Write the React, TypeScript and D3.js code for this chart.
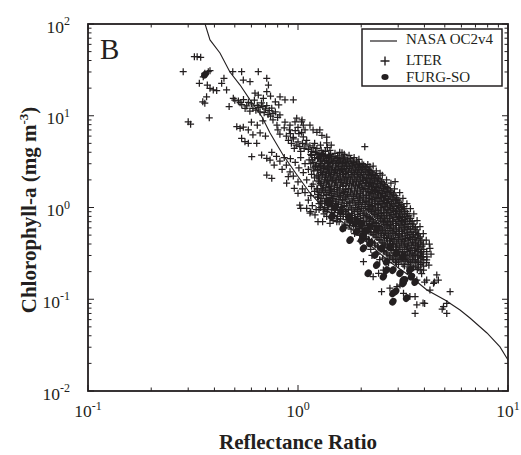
import React from 'react';
import * as d3 from 'd3';

const W = 521;
const H = 455;
const PLOT = { left: 88, right: 508, top: 24, bottom: 391 };

const xDomain: [number, number] = [0.1, 10];
const yDomain: [number, number] = [0.01, 100];
const xTickExps = [-1, 0, 1];
const yTickExps = [-2, -1, 0, 1, 2];
const xTitle = 'Reflectance Ratio';
const yTitleMain = 'Chlorophyll-a (mg m';
const yTitleSup = '-3';
const panelLabel = 'B';
const legendLabels = ['NASA OC2v4', 'LTER', 'FURG-SO'];

// NASA OC2v4 curve (ratio, chl)
const nasaCurve: [number, number][] = [
  [0.361, 100], [0.381, 67], [0.425, 48.3], [0.474, 30], [0.53, 21.6], [0.591, 14.9],
  [0.674, 9.7], [0.736, 6.5], [0.849, 3.73], [0.989, 2.26], [1.14, 1.44], [1.315, 1.01],
  [1.77, 0.599], [2.2, 0.39], [2.74, 0.255], [3.41, 0.179], [4.11, 0.126], [5.01, 0.098],
  [5.91, 0.0764], [6.59, 0.0625], [7.94, 0.0429], [9.16, 0.0302], [10, 0.0218],
];

// LTER observations (ratio, chl) — sparse outer points
const lterOuter: [number, number][] = [
  [0.284, 30.2], [0.321, 44], [0.331, 44], [0.344, 43.4], [0.300, 8.6], [0.308, 8.1], [0.378, 9.5],
  [0.339, 22.6], [0.354, 26.6], [0.360, 29], [0.374, 30.2], [0.381, 31], [0.352, 14.2], [0.360, 13.7],
  [0.367, 16.1], [0.370, 21.6], [0.381, 19.9], [0.395, 19.1], [0.410, 18.8], [0.433, 22.6], [0.444, 25.6],
  [0.457, 19.1], [0.489, 30.2], [0.492, 15.5], [0.539, 30.2], [0.549, 24.5], [0.591, 23.5], [0.647, 30.2],
  [0.710, 25.6], [0.723, 21.6], [0.710, 18.3], [0.624, 17.6], [0.647, 16.8], [0.684, 15.5], [0.821, 16.1],
  [0.867, 14.9], [0.950, 14.9], [0.74, 16.4], [0.78, 14.2], [0.81, 13.1],
  [0.511, 7.6], [0.530, 7.3], [0.549, 7.5], [0.580, 7.0], [0.539, 5.68], [0.559, 5.21], [0.580, 5.01],
  [0.636, 5.01], [0.602, 3.58], [0.671, 3.73], [0.710, 3.44], [0.736, 3.29], [0.710, 2.26], [0.750, 2.08],
  [0.60, 8.5], [0.64, 7.9], [0.68, 8.8], [0.66, 6.5], [0.70, 6.0], [0.61, 6.2],
  [2.08, 4.6], [2.20, 2.78], [2.28, 2.83], [2.46, 2.36], [2.90, 1.91], [2.96, 1.21], [3.18, 1.02],
  [4.25, 0.359], [4.58, 0.184], [4.66, 0.162], [4.42, 0.149], [5.30, 0.121], [5.11, 0.090], [4.93, 0.083],
  [5.11, 0.070], [3.61, 0.107], [3.68, 0.087], [3.61, 0.070], [4.01, 0.090], [2.50, 0.121], [2.74, 0.132],
  [2.96, 0.137], [3.06, 0.143], [2.28, 0.176], [2.42, 0.192], [2.55, 0.208], [2.05, 0.257], [3.94, 0.291],
  [4.10, 0.268], [4.01, 0.154], [4.46, 0.154], [4.25, 0.126], [3.94, 0.091], [4.86, 0.078], [3.41, 0.19],
  [3.68, 0.162], [3.96, 0.208], [4.10, 0.162], [3.18, 0.116], [3.41, 0.107],
];

// LTER — fringe points around the dense core
const lterFringe: [number, number][] = [
  [1.62, 3.95], [1.95, 3.35], [2.15, 2.95], [2.36, 2.5], [2.52, 2.25], [2.64, 2.0], [2.77, 1.84],
  [2.88, 1.6], [3.05, 1.45], [3.16, 1.26], [3.3, 1.1], [3.43, 0.97], [3.56, 0.85], [3.69, 0.72],
  [3.81, 0.62], [3.95, 0.52], [4.08, 0.44], [4.22, 0.4], [4.3, 0.31], [4.2, 0.235], [3.88, 0.19],
  [2.45, 0.27], [2.25, 0.3], [1.98, 0.43], [1.86, 0.52], [1.68, 0.6], [1.47, 0.72],
];

// LTER — upper and middle clusters
const lterUpper: [number, number][] = [
  [0.52, 14.5], [0.54, 13.2], [0.55, 15.0], [0.57, 12.8], [0.58, 14.0], [0.60, 13.5], [0.61, 12.0],
  [0.62, 14.8], [0.63, 11.5], [0.64, 13.0], [0.65, 12.3], [0.66, 11.0], [0.67, 13.8], [0.68, 12.6],
  [0.69, 10.8], [0.70, 11.9], [0.71, 12.9], [0.72, 10.3], [0.73, 11.4], [0.74, 9.9], [0.75, 12.1],
  [0.76, 10.6], [0.78, 11.0], [0.80, 9.6], [0.82, 10.2], [0.59, 11.2], [0.56, 12.0], [0.53, 13.9],
  [0.50, 14.8], [0.47, 12.6],
  [0.760, 9.0], [0.794, 7.9], [0.802, 7.0], [0.867, 8.5], [0.916, 7.9], [0.968, 8.55], [1.0, 7.45],
  [1.045, 9.0], [1.06, 7.9], [1.08, 7.0], [1.14, 7.9], [1.18, 7.0], [1.23, 6.6], [1.27, 7.0],
  [1.30, 6.1], [1.37, 5.85], [1.37, 5.05], [0.986, 9.4], [1.04, 8.6], [0.86, 7.4], [0.91, 7.0],
  [0.97, 6.9], [1.01, 6.4], [1.04, 6.6], [0.82, 6.3], [0.88, 6.0], [0.95, 5.8], [1.06, 5.9], [0.92, 6.4],
  [0.90, 5.4], [0.93, 5.0], [0.95, 5.6], [0.98, 4.8], [1.00, 5.2], [1.02, 4.6], [1.05, 5.0], [1.07, 4.4],
  [1.09, 4.9], [1.12, 4.3], [1.14, 4.7], [1.16, 4.1], [1.18, 4.5], [1.21, 4.0], [1.23, 4.4], [1.26, 3.9],
  [1.29, 4.2], [1.32, 3.8], [1.35, 4.1], [1.10, 5.4], [1.20, 5.0], [1.28, 4.8], [1.03, 4.1], [0.96, 4.4],
  [1.15, 3.8], [1.38, 4.5], [1.44, 4.8], [1.40, 3.7],
  [1.42, 4.2], [1.50, 3.9], [1.58, 4.0], [1.66, 3.8], [1.75, 3.7], [1.85, 3.5],
  [0.75, 4.0], [0.79, 3.6], [0.82, 3.2], [0.86, 3.5], [0.77, 2.9], [0.84, 2.6], [0.88, 2.9], [0.92, 3.4],
  [0.97, 3.1], [1.03, 3.5], [1.08, 3.0], [1.13, 3.3], [1.01, 2.7], [1.06, 2.4], [1.12, 2.6], [0.95, 2.2],
  [1.00, 1.9], [1.10, 2.0], [1.16, 1.7], [1.05, 1.6], [1.20, 1.5], [1.15, 1.35], [0.96, 1.62], [1.25, 1.3],
  [0.883, 1.84], [0.899, 2.17], [0.916, 2.45], [1.00, 1.43], [1.02, 1.06], [1.03, 0.98], [1.08, 1.45],
  [1.12, 1.2], [1.17, 1.05], [1.22, 0.95], [1.10, 0.98], [1.15, 0.90], [1.14, 0.87], [1.205, 0.83],
  [1.245, 0.70], [1.31, 0.70], [1.42, 0.67], [1.53, 0.70],
];

// LTER — dense core (first set)
const lterCore: [number, number][] = [
  [1.16, 3.7], [1.17, 3.3], [1.15, 3.0], [1.18, 2.7], [1.16, 2.3],
  [1.20, 3.5], [1.19, 3.1], [1.21, 2.8], [1.19, 2.5], [1.20, 2.1], [1.18, 1.8], [1.20, 1.5],
  [1.23, 3.8], [1.24, 3.4], [1.22, 2.9], [1.24, 2.6], [1.23, 2.2], [1.25, 1.95], [1.23, 1.6], [1.24, 1.3],
  [1.27, 3.6], [1.28, 3.2], [1.26, 2.75], [1.28, 2.4], [1.27, 2.05], [1.29, 1.75], [1.27, 1.45], [1.28, 1.15], [1.26, 0.95],
  [1.31, 3.9], [1.32, 3.45], [1.30, 3.0], [1.32, 2.65], [1.31, 2.3], [1.33, 1.9], [1.31, 1.6], [1.32, 1.35], [1.30, 1.1], [1.33, 0.85],
  [1.35, 3.7], [1.36, 3.25], [1.34, 2.85], [1.36, 2.45], [1.35, 2.15], [1.37, 1.85], [1.35, 1.55], [1.36, 1.25], [1.34, 1.0], [1.37, 0.8],
  [1.39, 3.5], [1.40, 3.1], [1.38, 2.7], [1.40, 2.35], [1.39, 2.0], [1.41, 1.7], [1.39, 1.45], [1.40, 1.2], [1.38, 0.95],
  [1.43, 3.8], [1.44, 3.3], [1.42, 2.9], [1.44, 2.55], [1.43, 2.2], [1.45, 1.9], [1.43, 1.6], [1.44, 1.35], [1.42, 1.1], [1.45, 0.88],
  [1.47, 3.6], [1.48, 3.15], [1.46, 2.75], [1.48, 2.4], [1.47, 2.05], [1.49, 1.75], [1.47, 1.5], [1.48, 1.25], [1.46, 1.02], [1.49, 0.82],
  [1.52, 3.4], [1.53, 3.0], [1.51, 2.6], [1.53, 2.25], [1.52, 1.95], [1.54, 1.65], [1.52, 1.4], [1.53, 1.15], [1.51, 0.95], [1.54, 0.75],
  [1.57, 3.65], [1.58, 3.2], [1.56, 2.8], [1.58, 2.45], [1.57, 2.1], [1.59, 1.8], [1.57, 1.55], [1.58, 1.3], [1.56, 1.08], [1.59, 0.88], [1.57, 0.7],
  [1.62, 3.4], [1.63, 3.0], [1.61, 2.6], [1.63, 2.3], [1.62, 1.95], [1.64, 1.7], [1.62, 1.42], [1.63, 1.2], [1.61, 1.0], [1.64, 0.8],
  [1.67, 3.55], [1.68, 3.1], [1.66, 2.7], [1.68, 2.35], [1.67, 2.05], [1.69, 1.75], [1.67, 1.5], [1.68, 1.27], [1.66, 1.05], [1.69, 0.87], [1.67, 0.66],
  [1.72, 3.3], [1.73, 2.9], [1.71, 2.5], [1.73, 2.2], [1.72, 1.9], [1.74, 1.62], [1.72, 1.38], [1.73, 1.15], [1.71, 0.95], [1.74, 0.78],
  [1.78, 3.4], [1.79, 3.0], [1.77, 2.65], [1.79, 2.3], [1.78, 2.0], [1.80, 1.72], [1.78, 1.47], [1.79, 1.24], [1.77, 1.04], [1.80, 0.86], [1.78, 0.7], [1.79, 0.58],
  [1.84, 3.1], [1.85, 2.75], [1.83, 2.4], [1.85, 2.1], [1.84, 1.8], [1.86, 1.55], [1.84, 1.32], [1.85, 1.12], [1.83, 0.94], [1.86, 0.78], [1.84, 0.64],
  [1.90, 3.2], [1.91, 2.85], [1.89, 2.5], [1.91, 2.2], [1.90, 1.9], [1.92, 1.63], [1.90, 1.4], [1.91, 1.19], [1.89, 1.0], [1.92, 0.84], [1.90, 0.7], [1.91, 0.57],
  [1.96, 2.95], [1.97, 2.6], [1.95, 2.3], [1.97, 2.0], [1.96, 1.72], [1.98, 1.48], [1.96, 1.27], [1.97, 1.08], [1.95, 0.9], [1.98, 0.76], [1.96, 0.62], [1.97, 0.5],
  [2.02, 3.0], [2.03, 2.7], [2.01, 2.4], [2.03, 2.1], [2.02, 1.82], [2.04, 1.57], [2.02, 1.34], [2.03, 1.14], [2.01, 0.97], [2.04, 0.82], [2.02, 0.68], [2.03, 0.55],
  [2.09, 2.8], [2.10, 2.45], [2.08, 2.15], [2.10, 1.88], [2.09, 1.62], [2.11, 1.4], [2.09, 1.2], [2.10, 1.02], [2.08, 0.87], [2.11, 0.73], [2.09, 0.6], [2.10, 0.48],
  [2.16, 2.6], [2.17, 2.3], [2.15, 2.0], [2.17, 1.75], [2.16, 1.5], [2.18, 1.3], [2.16, 1.12], [2.17, 0.95], [2.15, 0.8], [2.18, 0.67], [2.16, 0.55], [2.17, 0.45],
  [2.23, 2.45], [2.24, 2.15], [2.22, 1.88], [2.24, 1.64], [2.23, 1.42], [2.25, 1.22], [2.23, 1.05], [2.24, 0.9], [2.22, 0.76], [2.25, 0.64], [2.23, 0.53], [2.24, 0.43], [2.22, 0.35],
  [2.30, 2.3], [2.31, 2.0], [2.29, 1.76], [2.31, 1.54], [2.30, 1.33], [2.32, 1.15], [2.30, 0.99], [2.31, 0.84], [2.29, 0.71], [2.32, 0.6], [2.30, 0.5], [2.31, 0.41],
  [2.38, 2.15], [2.39, 1.9], [2.37, 1.66], [2.39, 1.45], [2.38, 1.25], [2.40, 1.08], [2.38, 0.93], [2.39, 0.79], [2.37, 0.67], [2.40, 0.56], [2.38, 0.47], [2.39, 0.38], [2.37, 0.31],
  [2.46, 2.0], [2.47, 1.75], [2.45, 1.53], [2.47, 1.34], [2.46, 1.16], [2.48, 1.0], [2.46, 0.86], [2.47, 0.73], [2.45, 0.62], [2.48, 0.52], [2.46, 0.44], [2.47, 0.36],
  [2.54, 1.85], [2.55, 1.62], [2.53, 1.42], [2.55, 1.24], [2.54, 1.07], [2.56, 0.92], [2.54, 0.79], [2.55, 0.68], [2.53, 0.58], [2.56, 0.49], [2.54, 0.41], [2.55, 0.34], [2.53, 0.28],
  [2.62, 1.7], [2.63, 1.5], [2.61, 1.31], [2.63, 1.14], [2.62, 0.99], [2.64, 0.85], [2.62, 0.73], [2.63, 0.63], [2.61, 0.54], [2.64, 0.46], [2.62, 0.39], [2.63, 0.32],
  [2.71, 1.6], [2.72, 1.4], [2.70, 1.22], [2.72, 1.06], [2.71, 0.92], [2.73, 0.79], [2.71, 0.68], [2.72, 0.59], [2.70, 0.5], [2.73, 0.43], [2.71, 0.36], [2.72, 0.3], [2.70, 0.25],
  [2.80, 1.45], [2.81, 1.27], [2.79, 1.11], [2.81, 0.97], [2.80, 0.84], [2.82, 0.73], [2.80, 0.63], [2.81, 0.54], [2.79, 0.46], [2.82, 0.4], [2.80, 0.34], [2.81, 0.28],
  [2.90, 1.35], [2.91, 1.18], [2.89, 1.03], [2.91, 0.9], [2.90, 0.78], [2.92, 0.67], [2.90, 0.58], [2.91, 0.5], [2.89, 0.43], [2.92, 0.37], [2.90, 0.31], [2.91, 0.26],
  [3.00, 1.2], [3.01, 1.05], [2.99, 0.92], [3.01, 0.8], [3.00, 0.7], [3.02, 0.6], [3.00, 0.52], [3.01, 0.45], [2.99, 0.39], [3.02, 0.33], [3.00, 0.28], [3.01, 0.24],
  [3.10, 1.08], [3.11, 0.95], [3.09, 0.83], [3.11, 0.72], [3.10, 0.63], [3.12, 0.55], [3.10, 0.48], [3.11, 0.41], [3.09, 0.35], [3.12, 0.3], [3.10, 0.26],
  [3.21, 0.97], [3.22, 0.85], [3.20, 0.74], [3.22, 0.65], [3.21, 0.57], [3.23, 0.49], [3.21, 0.43], [3.22, 0.37], [3.20, 0.32], [3.23, 0.27], [3.21, 0.23],
  [3.32, 0.86], [3.33, 0.76], [3.31, 0.66], [3.33, 0.58], [3.32, 0.5], [3.34, 0.44], [3.32, 0.38], [3.33, 0.33], [3.31, 0.28], [3.34, 0.24],
  [3.44, 0.76], [3.45, 0.67], [3.43, 0.58], [3.45, 0.51], [3.44, 0.45], [3.46, 0.39], [3.44, 0.34], [3.45, 0.29], [3.43, 0.25], [3.46, 0.21],
  [3.56, 0.66], [3.57, 0.58], [3.55, 0.51], [3.57, 0.45], [3.56, 0.39], [3.58, 0.34], [3.56, 0.3], [3.57, 0.26], [3.55, 0.22],
  [3.69, 0.57], [3.70, 0.5], [3.68, 0.44], [3.70, 0.38], [3.69, 0.33], [3.71, 0.29], [3.69, 0.25], [3.70, 0.21],
  [3.82, 0.48], [3.83, 0.42], [3.81, 0.37], [3.83, 0.32], [3.82, 0.28], [3.84, 0.24], [3.82, 0.21],
  [3.96, 0.4], [3.97, 0.35], [3.95, 0.31], [3.97, 0.27], [3.96, 0.23],
  [4.10, 0.33], [4.11, 0.29], [4.09, 0.25],
];

// LTER — dense core (second, interleaved set)
const lterCoreB: [number, number][] = [
  [1.25, 3.5], [1.26, 3.0], [1.24, 2.55], [1.25, 2.25], [1.26, 1.9], [1.24, 1.6], [1.25, 1.38], [1.26, 1.1],
  [1.29, 3.7], [1.30, 3.3], [1.28, 2.85], [1.29, 2.5], [1.30, 2.15], [1.28, 1.82], [1.29, 1.52], [1.30, 1.25], [1.28, 1.0],
  [1.33, 3.6], [1.34, 3.15], [1.32, 2.75], [1.33, 2.4], [1.34, 2.0], [1.32, 1.72], [1.33, 1.45], [1.34, 1.18], [1.32, 0.95],
  [1.37, 3.4], [1.38, 3.0], [1.36, 2.6], [1.37, 2.25], [1.38, 1.95], [1.36, 1.65], [1.37, 1.38], [1.38, 1.1], [1.36, 0.9],
  [1.41, 3.6], [1.42, 3.2], [1.40, 2.8], [1.41, 2.45], [1.42, 2.1], [1.40, 1.8], [1.41, 1.52], [1.42, 1.28], [1.40, 1.05],
  [1.45, 3.45], [1.46, 3.0], [1.44, 2.62], [1.45, 2.28], [1.46, 1.98], [1.44, 1.68], [1.45, 1.42], [1.46, 1.18], [1.44, 0.95],
  [1.50, 3.25], [1.51, 2.85], [1.49, 2.5], [1.50, 2.15], [1.51, 1.85], [1.49, 1.58], [1.50, 1.32], [1.51, 1.1], [1.49, 0.88],
  [1.545, 3.5], [1.555, 3.1], [1.535, 2.7], [1.545, 2.35], [1.555, 2.02], [1.535, 1.72], [1.545, 1.47], [1.555, 1.22], [1.535, 1.0], [1.545, 0.8],
  [1.595, 3.3], [1.605, 2.9], [1.585, 2.52], [1.595, 2.2], [1.605, 1.88], [1.585, 1.6], [1.595, 1.35], [1.605, 1.12], [1.585, 0.93], [1.595, 0.75],
  [1.645, 3.45], [1.655, 3.05], [1.635, 2.65], [1.645, 2.3], [1.655, 2.0], [1.635, 1.72], [1.645, 1.46], [1.655, 1.23], [1.635, 1.02], [1.645, 0.84],
  [1.695, 3.2], [1.705, 2.8], [1.685, 2.45], [1.695, 2.12], [1.705, 1.83], [1.685, 1.57], [1.695, 1.33], [1.705, 1.1], [1.685, 0.91], [1.695, 0.74],
  [1.75, 3.15], [1.76, 2.78], [1.74, 2.42], [1.75, 2.1], [1.76, 1.82], [1.74, 1.56], [1.75, 1.33], [1.76, 1.12], [1.74, 0.94], [1.75, 0.78], [1.76, 0.64],
  [1.81, 3.2], [1.82, 2.85], [1.80, 2.5], [1.81, 2.2], [1.82, 1.9], [1.80, 1.63], [1.81, 1.4], [1.82, 1.18], [1.80, 0.99], [1.81, 0.82], [1.82, 0.67],
  [1.87, 2.95], [1.88, 2.62], [1.86, 2.3], [1.87, 2.0], [1.88, 1.72], [1.86, 1.48], [1.87, 1.26], [1.88, 1.06], [1.86, 0.9], [1.87, 0.75], [1.88, 0.62],
  [1.93, 3.05], [1.94, 2.72], [1.92, 2.4], [1.93, 2.1], [1.94, 1.8], [1.92, 1.55], [1.93, 1.33], [1.94, 1.13], [1.92, 0.95], [1.93, 0.8], [1.94, 0.66], [1.92, 0.54],
  [1.99, 2.8], [2.00, 2.5], [1.98, 2.2], [1.99, 1.92], [2.00, 1.65], [1.98, 1.42], [1.99, 1.2], [2.00, 1.02], [1.98, 0.86], [1.99, 0.72], [2.00, 0.59],
  [2.055, 2.9], [2.065, 2.58], [2.045, 2.28], [2.055, 1.98], [2.065, 1.72], [2.045, 1.48], [2.055, 1.27], [2.065, 1.08], [2.045, 0.92], [2.055, 0.77], [2.065, 0.64], [2.045, 0.52],
  [2.125, 2.7], [2.135, 2.38], [2.115, 2.08], [2.125, 1.82], [2.135, 1.56], [2.115, 1.35], [2.125, 1.16], [2.135, 0.98], [2.115, 0.83], [2.125, 0.7], [2.135, 0.57], [2.115, 0.46],
  [2.195, 2.52], [2.205, 2.22], [2.185, 1.94], [2.195, 1.7], [2.205, 1.46], [2.185, 1.26], [2.195, 1.08], [2.205, 0.92], [2.185, 0.78], [2.195, 0.65], [2.205, 0.54], [2.185, 0.44],
  [2.265, 2.38], [2.275, 2.08], [2.255, 1.82], [2.265, 1.58], [2.275, 1.37], [2.255, 1.18], [2.265, 1.02], [2.275, 0.87], [2.255, 0.74], [2.265, 0.62], [2.275, 0.51], [2.255, 0.42],
  [2.34, 2.22], [2.35, 1.95], [2.33, 1.7], [2.34, 1.5], [2.35, 1.29], [2.33, 1.11], [2.34, 0.96], [2.35, 0.81], [2.33, 0.69], [2.34, 0.58], [2.35, 0.48], [2.33, 0.39],
  [2.42, 2.08], [2.43, 1.82], [2.41, 1.6], [2.42, 1.4], [2.43, 1.2], [2.41, 1.04], [2.42, 0.89], [2.43, 0.76], [2.41, 0.64], [2.42, 0.54], [2.43, 0.45], [2.41, 0.37],
  [2.50, 1.92], [2.51, 1.68], [2.49, 1.47], [2.50, 1.29], [2.51, 1.11], [2.49, 0.96], [2.50, 0.82], [2.51, 0.7], [2.49, 0.6], [2.50, 0.5], [2.51, 0.42], [2.49, 0.35],
  [2.58, 1.78], [2.59, 1.56], [2.57, 1.36], [2.58, 1.19], [2.59, 1.03], [2.57, 0.88], [2.58, 0.76], [2.59, 0.65], [2.57, 0.56], [2.58, 0.47], [2.59, 0.4], [2.57, 0.33],
  [2.665, 1.65], [2.675, 1.45], [2.655, 1.26], [2.665, 1.1], [2.675, 0.95], [2.655, 0.82], [2.665, 0.7], [2.675, 0.61], [2.655, 0.52], [2.665, 0.44], [2.675, 0.37], [2.655, 0.31],
  [2.755, 1.52], [2.765, 1.33], [2.745, 1.16], [2.755, 1.01], [2.765, 0.88], [2.745, 0.76], [2.755, 0.65], [2.765, 0.56], [2.745, 0.48], [2.755, 0.41], [2.765, 0.35], [2.745, 0.29],
  [2.85, 1.4], [2.86, 1.22], [2.84, 1.07], [2.85, 0.93], [2.86, 0.81], [2.84, 0.7], [2.85, 0.6], [2.86, 0.52], [2.84, 0.45], [2.85, 0.38], [2.86, 0.32], [2.84, 0.27],
  [2.95, 1.27], [2.96, 1.11], [2.94, 0.97], [2.95, 0.85], [2.96, 0.74], [2.94, 0.64], [2.95, 0.55], [2.96, 0.47], [2.94, 0.41], [2.95, 0.35], [2.96, 0.3], [2.94, 0.25],
  [3.05, 1.14], [3.06, 1.0], [3.04, 0.87], [3.05, 0.76], [3.06, 0.66], [3.04, 0.57], [3.05, 0.5], [3.06, 0.43], [3.04, 0.37], [3.05, 0.31], [3.06, 0.27],
  [3.155, 1.02], [3.165, 0.9], [3.145, 0.78], [3.155, 0.68], [3.165, 0.6], [3.145, 0.52], [3.155, 0.45], [3.165, 0.39], [3.145, 0.33], [3.155, 0.28], [3.165, 0.24],
  [3.265, 0.91], [3.275, 0.8], [3.255, 0.7], [3.265, 0.61], [3.275, 0.53], [3.255, 0.46], [3.265, 0.4], [3.275, 0.35], [3.255, 0.3], [3.265, 0.26],
  [3.38, 0.81], [3.39, 0.71], [3.37, 0.62], [3.38, 0.54], [3.39, 0.47], [3.37, 0.41], [3.38, 0.36], [3.39, 0.31], [3.37, 0.26], [3.38, 0.22],
  [3.50, 0.71], [3.51, 0.62], [3.49, 0.54], [3.50, 0.48], [3.51, 0.42], [3.49, 0.36], [3.50, 0.32], [3.51, 0.27], [3.49, 0.23],
  [3.625, 0.61], [3.635, 0.54], [3.615, 0.47], [3.625, 0.41], [3.635, 0.36], [3.615, 0.31], [3.625, 0.27], [3.635, 0.23],
  [3.755, 0.52], [3.765, 0.46], [3.745, 0.4], [3.755, 0.35], [3.765, 0.3], [3.745, 0.26], [3.755, 0.22],
  [3.89, 0.44], [3.90, 0.38], [3.88, 0.33], [3.89, 0.29], [3.90, 0.25],
];

// FURG-SO observations (ratio, chl)
const furgPoints: [number, number][] = [
  [0.36, 28], [1.42, 1.11], [1.39, 1.16], [1.64, 0.593], [1.90, 0.545], [2.01, 0.442], [2.05, 0.359],
  [2.20, 0.406], [2.33, 0.304], [2.37, 0.236], [2.16, 0.192], [2.64, 0.256], [2.83, 0.208], [3.06, 0.192],
  [3.17, 0.162], [3.41, 0.208], [3.47, 0.176], [3.17, 0.149], [2.83, 0.116], [2.83, 0.094], [3.29, 0.103],
  [2.55, 0.176], [2.64, 0.208], [1.77, 0.731], [1.90, 0.70], [2.20, 0.618], [2.37, 0.569], [2.74, 0.372],
  [2.94, 0.316], [3.17, 0.291], [2.92, 0.122], [3.22, 0.162], [3.61, 0.154], [2.04, 0.50],
  [1.77, 0.442], [2.50, 0.36], [1.6, 0.9], [1.75, 0.8], [2.0, 0.65], [1.5, 1.0], [1.45, 0.8], [2.1, 0.55],
];

const INK = '#231f20';
const FONT = '"Liberation Serif", "Times New Roman", Times, serif';

export default function App() {
  const x = d3.scaleLog().domain(xDomain).range([PLOT.left, PLOT.right]);
  const y = d3.scaleLog().domain(yDomain).range([PLOT.bottom, PLOT.top]);
  const isMajor = (v: number) => Math.abs(Math.log10(v) - Math.round(Math.log10(v))) < 1e-9;
  const xt = x.ticks();
  const yt = y.ticks();
  const line = d3.line<[number, number]>().x(d => x(d[0])).y(d => y(d[1]));
  const plusPath = 'M-3.5,0H3.5M0,-3.5V3.5';
  const lter = [...lterOuter, ...lterFringe, ...lterUpper, ...lterCore, ...lterCoreB];
  const MAJ = 6, MIN = 3.5;

  return (
    <svg width={W} height={H} style={{ position: 'absolute', left: 0, top: 0, background: '#fff' }}
      fontFamily={FONT}>
      <defs>
        <clipPath id="plotClip">
          <rect x={PLOT.left} y={PLOT.top} width={PLOT.right - PLOT.left} height={PLOT.bottom - PLOT.top} />
        </clipPath>
      </defs>

      <g stroke={INK} strokeWidth={1.25} fill="none">
        {lter.map((d, i) => (
          <path key={i} d={plusPath} transform={`translate(${x(d[0]).toFixed(2)},${y(d[1]).toFixed(2)})`} />
        ))}
      </g>
      <g fill={INK}>
        {furgPoints.map((d, i) => (
          <ellipse key={i} cx={0} cy={0} rx={3.4} ry={4.1}
            transform={`translate(${x(d[0]).toFixed(2)},${y(d[1]).toFixed(2)}) rotate(35)`} />
        ))}
      </g>

      <path d={line(nasaCurve) || ''} fill="none" stroke={INK} strokeWidth={1.1} clipPath="url(#plotClip)" />

      <g stroke={INK} strokeWidth={1}>
        {xt.map((v, i) => {
          const len = isMajor(v) ? MAJ : MIN;
          const px = x(v);
          return (
            <g key={'xt' + i}>
              <line x1={px} x2={px} y1={PLOT.bottom} y2={PLOT.bottom - len} />
              <line x1={px} x2={px} y1={PLOT.top} y2={PLOT.top + len} />
            </g>
          );
        })}
        {yt.map((v, i) => {
          const len = isMajor(v) ? MAJ : MIN;
          const py = y(v);
          return (
            <g key={'yt' + i}>
              <line x1={PLOT.left} x2={PLOT.left + len} y1={py} y2={py} />
              <line x1={PLOT.right} x2={PLOT.right - len} y1={py} y2={py} />
            </g>
          );
        })}
      </g>

      <rect x={PLOT.left} y={PLOT.top} width={PLOT.right - PLOT.left} height={PLOT.bottom - PLOT.top}
        fill="none" stroke={INK} strokeWidth={1.8} />

      <g fill={INK} fontSize={17.5}>
        {xTickExps.map(e => (
          <text key={'xl' + e} x={x(Math.pow(10, e))} y={417} textAnchor="middle">
            10<tspan fontSize={12} dy={-7.5}>{e}</tspan>
          </text>
        ))}
        {yTickExps.map(e => (
          <text key={'yl' + e} x={70} y={y(Math.pow(10, e)) + 8.5} textAnchor="end">
            10<tspan fontSize={12} dy={-7.5}>{e}</tspan>
          </text>
        ))}
      </g>

      <text x={(PLOT.left + PLOT.right) / 2} y={449} textAnchor="middle" fontWeight="bold" fontSize={21} fill={INK}>
        {xTitle}
      </text>
      <text transform="translate(36,210) rotate(-90)" textAnchor="middle" fontWeight="bold" fontSize={21} fill={INK}>
        {yTitleMain}<tspan fontSize={13} dy={-8.5}>{yTitleSup}</tspan><tspan dy={8.5}>)</tspan>
      </text>

      <text x={100} y={59} fontSize={29} fill={INK}>{panelLabel}</text>

      <g>
        <rect x={362} y={29} width={140} height={57} fill="#fff" stroke={INK} strokeWidth={1.5} />
        <line x1={370} x2={397} y1={41} y2={41} stroke={INK} strokeWidth={1.2} />
        <path d="M-4.5,0H4.5M0,-4.5V4.5" transform="translate(385,61)" stroke={INK} strokeWidth={1.4} />
        <ellipse cx={385} cy={77} rx={3.6} ry={3} fill={INK} />
        <g fill={INK} fontSize={15}>
          <text x={406} y={44}>{legendLabels[0]}</text>
          <text x={406} y={65}>{legendLabels[1]}</text>
          <text x={406} y={81.5}>{legendLabels[2]}</text>
        </g>
      </g>
    </svg>
  );
}
